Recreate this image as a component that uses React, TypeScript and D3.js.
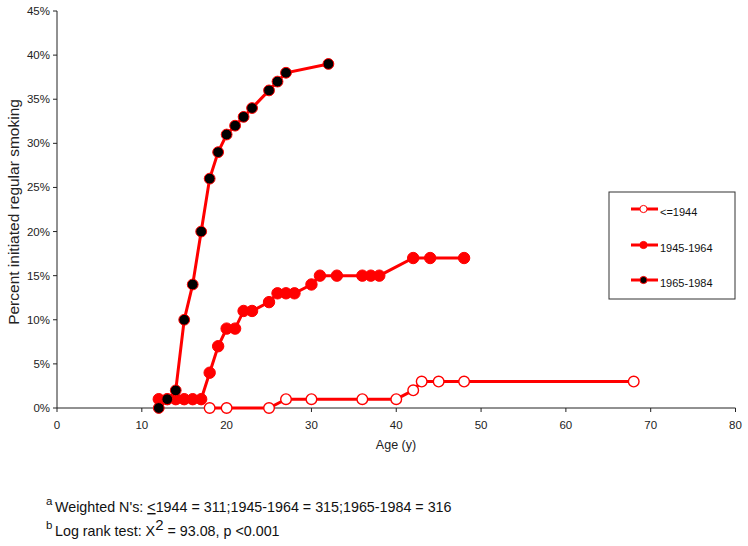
import React from "react";
import * as d3 from "d3";

const seriesNames = ["<=1944", "1945-1964", "1965-1984"];

const agesA = [18, 20, 25, 27, 30, 36, 40, 42, 43, 45, 48, 68];
const pctA = [0, 0, 0, 1, 1, 1, 1, 2, 3, 3, 3, 3];

const agesB = [12, 13, 14, 15, 16, 17, 18, 19, 20, 21, 22, 23, 25, 26, 27, 28, 30, 31, 33, 36, 37, 38, 42, 44, 48];
const pctB = [1, 1, 1, 1, 1, 1, 4, 7, 9, 9, 11, 11, 12, 13, 13, 13, 14, 15, 15, 15, 15, 15, 17, 17, 17];

const agesC = [12, 13, 14, 15, 16, 17, 18, 19, 20, 21, 22, 23, 25, 26, 27, 32];
const pctC = [0, 1, 2, 10, 14, 20, 26, 29, 31, 32, 33, 34, 36, 37, 38, 39];

const xTicks = [0, 10, 20, 30, 40, 50, 60, 70, 80];
const yTicks = [0, 5, 10, 15, 20, 25, 30, 35, 40, 45];

const RED = "#ff0000";
const AXIS = "#222";
const FONT = "Arial, 'Liberation Sans', sans-serif";

export default function App() {
  const x = d3.scaleLinear().domain([0, 80]).range([57, 735.5]);
  const y = d3.scaleLinear().domain([0, 45]).range([408, 11]);

  const mk = (ages: number[], pcts: number[]) => ages.map((a, i) => ({ a, p: pcts[i] }));
  const data = [
    { name: seriesNames[0], pts: mk(agesA, pctA), fill: "#ffffff", stroke: RED, r: 5.3, sw: 1.4 },
    { name: seriesNames[1], pts: mk(agesB, pctB), fill: RED, stroke: RED, r: 5.7, sw: 1 },
    { name: seriesNames[2], pts: mk(agesC, pctC), fill: "#000000", stroke: RED, r: 5.4, sw: 1 },
  ];

  const line = d3
    .line<{ a: number; p: number }>()
    .x((d) => x(d.a))
    .y((d) => y(d.p));

  const legendY = [209, 245, 280];

  return (
    <svg
      width={748}
      height={546}
      style={{ position: "absolute", left: 0, top: 0, background: "#fff" }}
      fontFamily={FONT}
    >
      <rect x={0} y={0} width={748} height={546} fill="#fff" />
      {/* Axes */}
      <line x1={x(0)} x2={x(80)} y1={y(0)} y2={y(0)} stroke={AXIS} strokeWidth={1} />
      <line x1={x(0)} x2={x(0)} y1={y(0)} y2={y(45)} stroke={AXIS} strokeWidth={1} />
      {xTicks.map((t) => (
        <g key={"xt" + t}>
          <line x1={x(t)} x2={x(t)} y1={y(0)} y2={y(0) + 4} stroke={AXIS} />
          <text x={x(t)} y={429} fontSize={11.5} textAnchor="middle" fill="#222">
            {t}
          </text>
        </g>
      ))}
      {yTicks.map((t) => (
        <g key={"yt" + t}>
          <line x1={x(0) - 4} x2={x(0)} y1={y(t)} y2={y(t)} stroke={AXIS} />
          <text x={50} y={y(t) + 4} fontSize={11.5} textAnchor="end" fill="#222">
            {t + "%"}
          </text>
        </g>
      ))}
      <text x={396} y={449} fontSize={12.5} textAnchor="middle" fill="#222">
        Age (y)
      </text>
      <text
        transform={`translate(19,212) rotate(-90)`}
        fontSize={15.5}
        textAnchor="middle"
        fill="#222"
      >
        Percent initiated regular smoking
      </text>

      {/* Series */}
      {data.map((s) => (
        <g key={s.name}>
          <path d={line(s.pts) || ""} fill="none" stroke={RED} strokeWidth={3} />
          {s.pts.map((d, i) => (
            <circle key={i} cx={x(d.a)} cy={y(d.p)} r={s.r} fill={s.fill} stroke={s.stroke} strokeWidth={s.sw} />
          ))}
        </g>
      ))}

      {/* Legend */}
      <rect x={609} y={192} width={126} height={107} fill="#fff" stroke="#333" strokeWidth={1} />
      {data.map((s, i) => (
        <g key={"lg" + i}>
          <line x1={631} x2={658} y1={legendY[i]} y2={legendY[i]} stroke={RED} strokeWidth={3} />
          <circle cx={643.5} cy={legendY[i]} r={3.6} fill={s.fill} stroke={RED} strokeWidth={1} />
          <text x={660} y={legendY[i] + 7} fontSize={11} fill="#111">
            {s.name}
          </text>
        </g>
      ))}

      {/* Footnotes */}
      <text x={46} y={505} fontSize={11.5} fill="#111">a</text>
      <text x={55} y={512} fontSize={14.3} fill="#111">
        {"Weighted N's: "}
        <tspan textDecoration="underline">{"<"}</tspan>
        {"1944 = 311;1945-1964 = 315;1965-1984 = 316"}
      </text>
      <text x={46} y={529} fontSize={11.5} fill="#111">b</text>
      <text x={55} y={536} fontSize={14.3} fill="#111">
        {"Log rank test: X"}
        <tspan fontSize={15} dy={-6}>2</tspan>
        <tspan dy={6}>{" = 93.08, p <0.001"}</tspan>
      </text>
    </svg>
  );
}
